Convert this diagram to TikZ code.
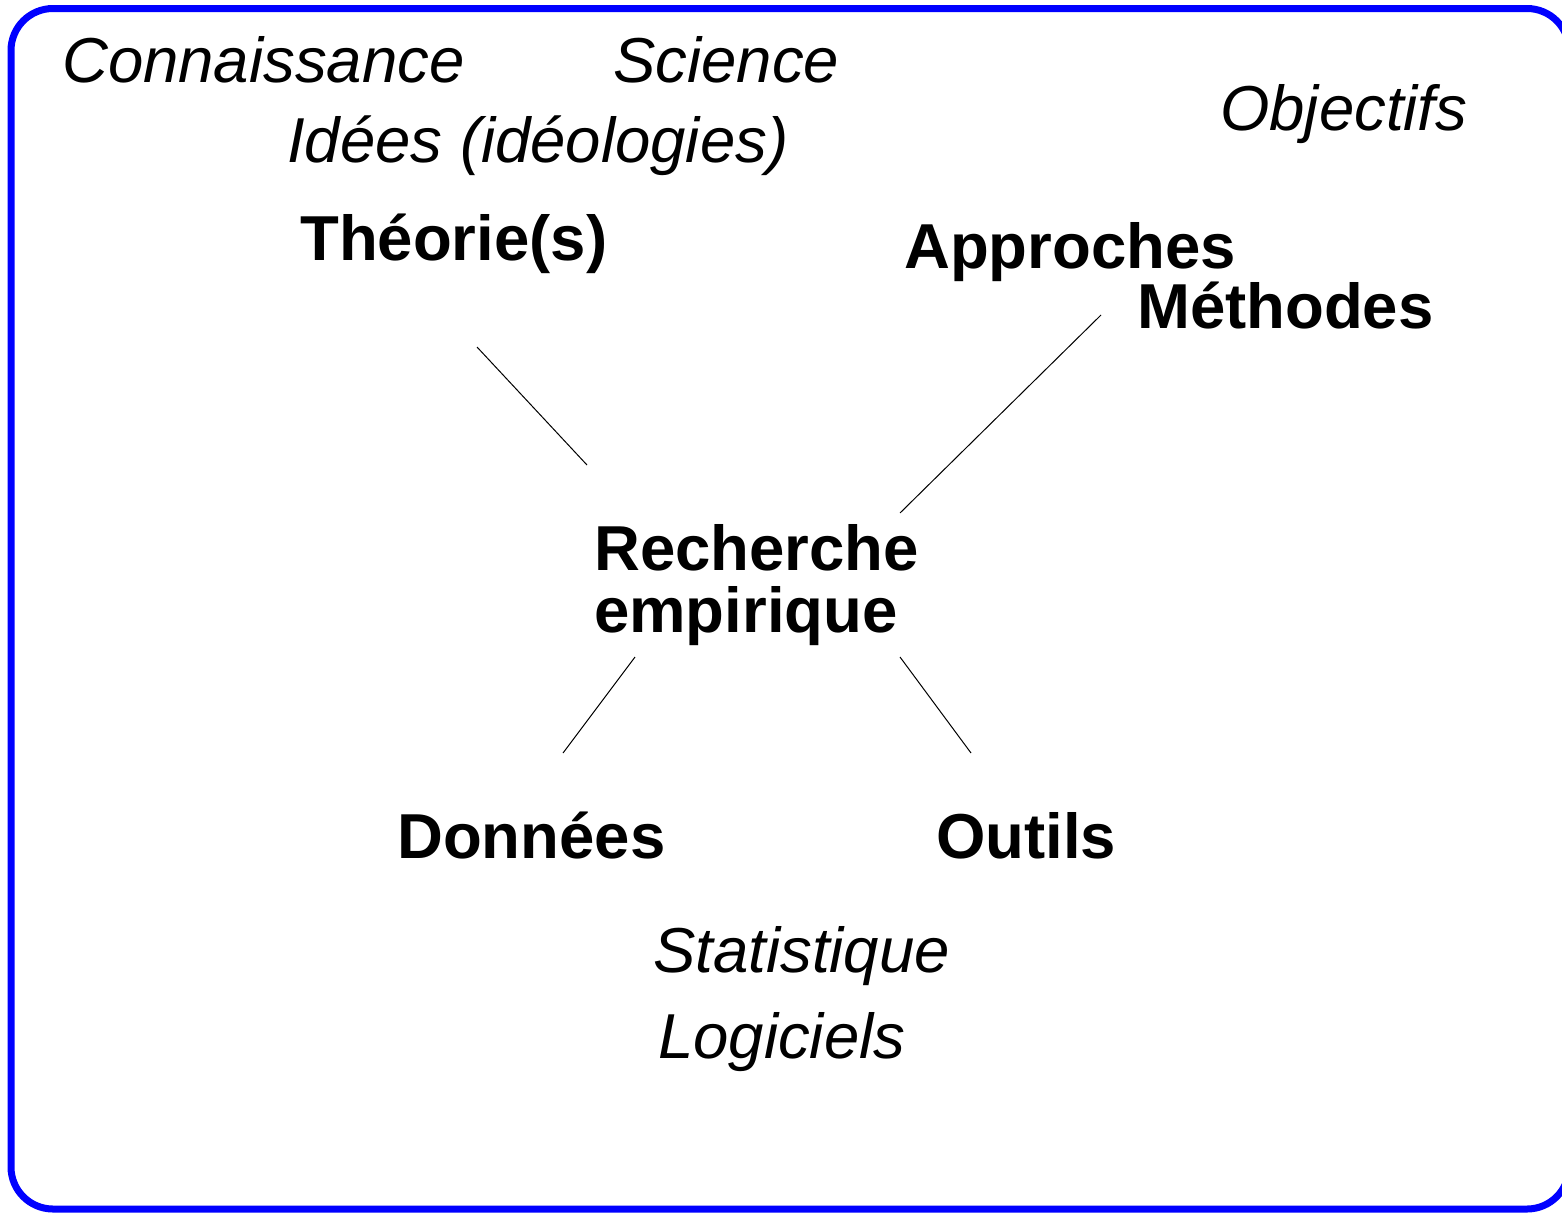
\documentclass[tikz,border=0pt]{standalone}
\usepackage{fontspec}
\setmainfont{Liberation Sans}
\begin{document}
\begin{tikzpicture}[x=1pt,y=-1pt,
  it/.style={anchor=base west,inner sep=0pt,font=\fontsize{63.5}{62}\selectfont\itshape},
  bd/.style={anchor=base west,inner sep=0pt,font=\fontsize{63.5}{62}\selectfont\bfseries,align=left},
  link/.style={line width=1pt,black}]
\useasboundingbox (0,0) rectangle (1562,1213);
\begin{scope}
\clip (0,0) rectangle (1562,1213);
\draw[blue,line width=7pt,rounded corners=42pt] (11,8.5) rectangle (1569,1209);
\end{scope}
\node[it] (conn) at (62,82) {Connaissance};
\node[it] (sci) at (613,82) {Science};
\node[it] (idees) at (287,162) {Idées (idéologies)};
\node[it] (obj) at (1220,130) {Objectifs};
\node[bd] (theo) at (300,260) {Théorie(s)};
\node[bd] (appr) at (904,268) {Approches};
\node[bd] (meth) at (1137,328) {Méthodes};
\node[bd] (rech) at (594,632) {Recherche\\empirique};
\node[bd] (donn) at (397,858) {Données};
\node[bd] (outi) at (936,858) {Outils};
\node[it] (stat) at (653,972) {Statistique};
\node[it] (logi) at (658,1058) {Logiciels};
\coordinate (t1) at (477,347);
\coordinate (t2) at (587,465);
\coordinate (m1) at (1101,315);
\coordinate (m2) at (900,513);
\coordinate (d1) at (635,657);
\coordinate (d2) at (563,753);
\coordinate (o1) at (900,657);
\coordinate (o2) at (971,753);
\draw[link] (t1) -- (t2);
\draw[link] (m1) -- (m2);
\draw[link] (d1) -- (d2);
\draw[link] (o1) -- (o2);
\end{tikzpicture}
\end{document}
